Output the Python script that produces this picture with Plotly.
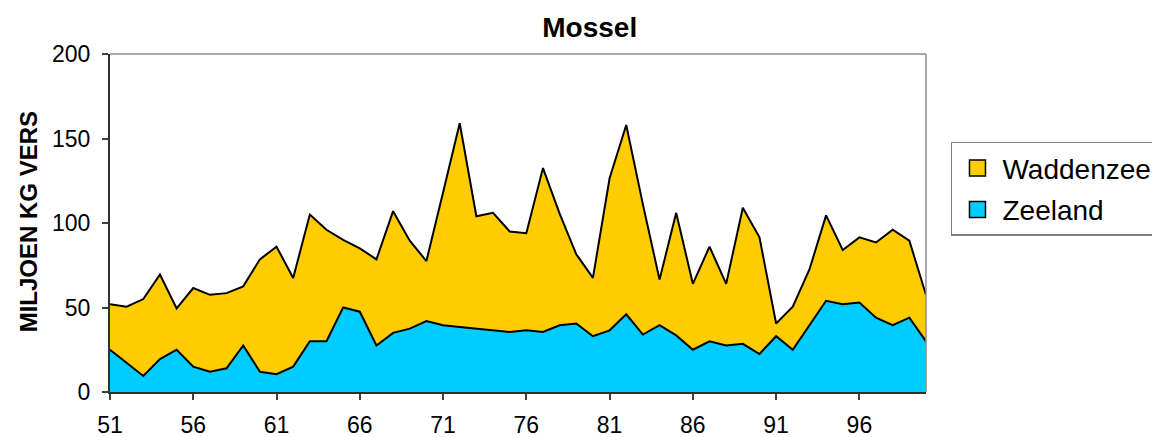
"""Mossel aanvoer — stacked area chart, Zeeland + Waddenzee."""
import plotly.graph_objects as go

years = list(range(51, 101))

# totals (top line)
totaal = [52, 50.5, 55, 69.5, 49.5, 61.5, 57.5, 58.5, 62.5, 78.5,
          86, 67.5, 105, 96, 90, 85, 78.5, 107, 89.5, 77.5,
          118, 159, 104, 106, 95, 94, 132.5, 105.5, 81.5, 67.5,
          126.5, 158, 111, 66.5, 106, 64, 86, 64, 109, 91.5,
          40.5, 50.5, 72.5, 104.5, 84, 91.5, 88.5, 96, 89.5, 57.5]

zeeland = [25, 17.5, 9.5, 19.5, 25, 15, 12, 14, 27.5, 12,
           10.5, 15, 30, 30, 50, 47.5, 27.5, 35, 37.5, 42,
           39.5, 38.5, 37.5, 36.5, 35.5, 36.5, 35.5, 39.5, 40.5, 33,
           36.5, 46, 34, 39.5, 33.5, 25, 30, 27.5, 28.5, 22.5,
           33, 25, 39.5, 54, 52, 53, 44, 39.5, 44, 30]

waddenzee = [t - z for t, z in zip(totaal, zeeland)]

tick_vals = list(range(51, 100, 5))
_FONT = "Arial, Liberation Sans, sans-serif"
_YELLOW = "#FFCC00"
_CYAN = "#00CCFF"

fig = go.Figure()

for name, vals, color in [("Zeeland", zeeland, _CYAN), ("Waddenzee", waddenzee, _YELLOW)]:
    fig.add_trace(go.Scatter(
        x=years, y=vals, name=name, stackgroup="one", mode="lines",
        line=dict(color="#000000", width=2), fillcolor=color,
        showlegend=False,
    ))

# legend entries as bordered squares (Waddenzee on top)
for name, color in [("Waddenzee", _YELLOW), ("Zeeland", _CYAN)]:
    fig.add_trace(go.Scatter(
        x=[None], y=[None], name=name, mode="markers", legendgroup=name,
        marker=dict(symbol="square", size=16, color=color,
                    line=dict(color="#000000", width=1.5)),
    ))

# grey frame on top and right
fig.add_shape(type="line", xref="x domain", yref="y domain",
              x0=0, x1=1, y0=1, y1=1, line=dict(color="#8c8c8c", width=1.5))
fig.add_shape(type="line", xref="x domain", yref="y domain",
              x0=1, x1=1, y0=0, y1=1, line=dict(color="#8c8c8c", width=1.5))

fig.add_annotation(
    text="<b>MILJOEN KG VERS</b>", textangle=-90,
    xref="paper", yref="paper", x=-0.1005, y=0.505, xanchor="center", yanchor="middle",
    showarrow=False, font=dict(family=_FONT, size=24, color="#000000"),
)

fig.update_layout(
    width=1152, height=429,
    margin=dict(l=102, r=234, t=46, b=45, autoexpand=False),
    paper_bgcolor="#ffffff", plot_bgcolor="#ffffff",
    font=dict(family=_FONT, color="#000000"),
    title=dict(text="<b>Mossel</b>", x=0.505, xref="container", xanchor="center",
               y=0.956, yref="container", yanchor="middle",
               font=dict(family=_FONT, size=28, color="#000000")),
    xaxis=dict(
        range=[51, 100], tickvals=tick_vals, ticktext=[str(v) for v in tick_vals],
        ticks="outside", ticklen=6, tickcolor="#404040", tickwidth=1.5,
        showline=True, linecolor="#303030", linewidth=2,
        showgrid=False, zeroline=False, automargin=False, ticklabelstandoff=5,
        tickfont=dict(family=_FONT, size=23, color="#000000"),
    ),
    yaxis=dict(
        range=[0, 200], tickvals=[0, 50, 100, 150, 200],
        ticks="outside", ticklen=6, tickcolor="#404040", tickwidth=1.5,
        showline=True, linecolor="#303030", linewidth=2,
        showgrid=False, zeroline=False, automargin=False, ticklabelstandoff=7,
        tickfont=dict(family=_FONT, size=23, color="#000000"),
    ),
    legend=dict(
        x=1.0306, y=0.74, xanchor="left", yanchor="top",
        traceorder="grouped", tracegroupgap=2,
        font=dict(family=_FONT, size=28, color="#000000"),
        bgcolor="#ffffff", bordercolor="#7f7f7f", borderwidth=1.5,
        itemwidth=40,
    ),
)

fig.write_html("out.html")
